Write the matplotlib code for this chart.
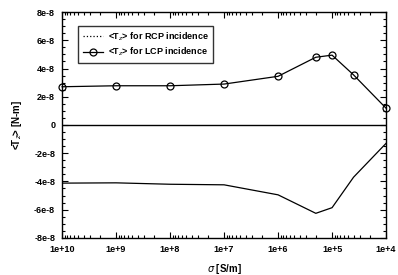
import numpy as np
import matplotlib.pyplot as plt
from matplotlib.lines import Line2D
from matplotlib.ticker import FixedLocator, AutoMinorLocator, LogLocator, NullFormatter

plt.rcParams['font.family'] = ['Liberation Sans', 'DejaVu Sans']

# conductividad (S/m)
sigma_lcp = [1e10, 1e9, 1e8, 1e7, 1e6, 2e5, 1e5, 4e4, 1e4]
t_lcp = [2.71e-8, 2.78e-8, 2.78e-8, 2.9e-8, 3.45e-8, 4.8e-8, 4.95e-8, 3.55e-8, 1.19e-8]

sigma_rcp = [1e10, 1e9, 1e8, 1e7, 1e6, 2e5, 1e5, 4e4, 1e4]
t_rcp = [-4.12e-8, -4.1e-8, -4.2e-8, -4.24e-8, -4.95e-8, -6.26e-8, -5.86e-8, -3.7e-8, -1.3e-8]

xticks = [1e10, 1e9, 1e8, 1e7, 1e6, 1e5, 1e4]
xlabels = ['1e+10', '1e+9', '1e+8', '1e+7', '1e+6', '1e+5', '1e+4']
yticks = [-8e-8, -6e-8, -4e-8, -2e-8, 0, 2e-8, 4e-8, 6e-8, 8e-8]
ylabels = ['-8e-8', '-6e-8', '-4e-8', '-2e-8', '0', '2e-8', '4e-8', '6e-8', '8e-8']

fig = plt.figure(figsize=(3.98, 2.75), dpi=100)
ax = fig.add_axes([0.156, 0.135, 0.814, 0.821])

ax.axhline(0, color='black', lw=1.0)
ax.plot(sigma_rcp, t_rcp, color='black', lw=0.9)
ax.plot(sigma_lcp, t_lcp, color='black', lw=0.9, marker='o', ms=5, mfc='none',
        mew=0.9, clip_on=False)

ax.set_xscale('log')
ax.set_xlim(1e10, 1e4)
ax.set_ylim(-8e-8, 8e-8)

ax.xaxis.set_major_locator(FixedLocator(xticks))
ax.set_xticklabels(xlabels)
ax.xaxis.set_minor_locator(LogLocator(base=10, subs=np.arange(2, 10)))
ax.xaxis.set_minor_formatter(NullFormatter())
ax.yaxis.set_major_locator(FixedLocator(yticks))
ax.set_yticklabels(ylabels)
ax.yaxis.set_minor_locator(AutoMinorLocator(4))

ax.tick_params(which='both', direction='in', top=True, right=True, labelsize=6.5, width=0.8)
ax.tick_params(which='major', length=4, pad=5)
ax.tick_params(which='minor', length=2)
for lab in ax.get_xticklabels() + ax.get_yticklabels():
    lab.set_fontweight('bold')

for s in ax.spines.values():
    s.set_linewidth(1.0)

ax.set_xlabel(r'$\sigma$ [S/m]', fontsize=7, fontweight='bold', labelpad=6)
ax.set_ylabel(r'<T$_z$> [N-m]', fontsize=7, fontweight='bold', labelpad=7)

# leyenda: la RCP aparece punteada
h_rcp = Line2D([], [], color='black', lw=0.9, ls=':')
h_lcp = Line2D([], [], color='black', lw=0.9, marker='o', ms=5, mfc='none', mew=0.9)
leg = ax.legend([h_rcp, h_lcp], [r'<T$_z$> for RCP incidence', r'<T$_z$> for LCP incidence'],
                loc='upper left', bbox_to_anchor=(0.05, 0.94), fontsize=6.5, frameon=True,
                fancybox=False, edgecolor='black', borderpad=0.5, handlelength=2.2,
                labelspacing=0.35, handletextpad=0.6, borderaxespad=0)
leg.get_frame().set_linewidth(1.0)
for t in leg.get_texts():
    t.set_fontweight('bold')

plt.savefig('out.png', dpi=100)
